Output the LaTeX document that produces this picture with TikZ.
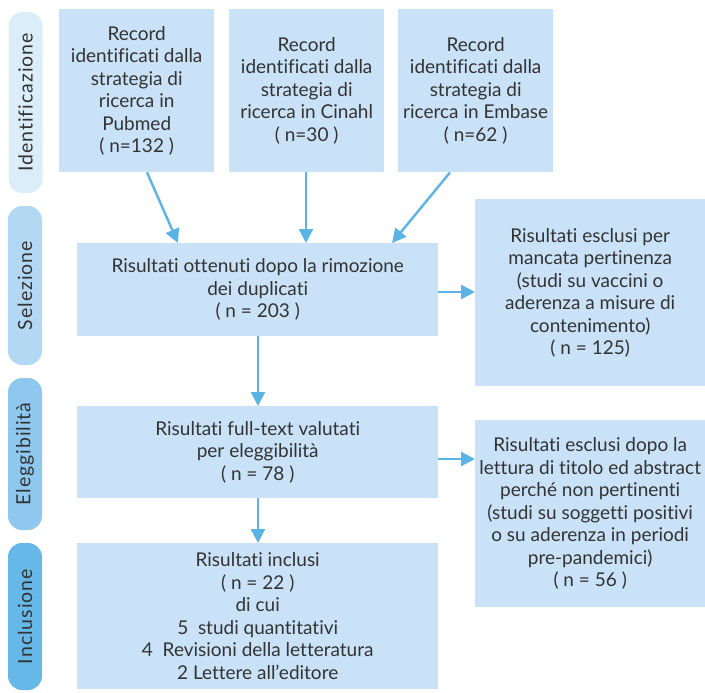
\documentclass[tikz,border=0pt]{standalone}
\usepackage{fontspec}
\setmainfont{Lato}[Ligatures={NoCommon}]
\usetikzlibrary{arrows.meta}
\definecolor{boxfill}{HTML}{C9E2F7}
\definecolor{arrowc}{HTML}{5AB4E6}
\definecolor{txt}{HTML}{333333}
\definecolor{sideA}{HTML}{DCEDFA}
\definecolor{sideB}{HTML}{B3D8F3}
\definecolor{sideC}{HTML}{8EC8EE}
\definecolor{sideD}{HTML}{66B8E8}
\tikzset{
  box/.style={fill=boxfill, anchor=north west, align=center, text=txt, inner sep=0pt,
    font=\fontsize{19}{22.5}\selectfont},
  side/.style={rounded corners=14pt, rotate=90, minimum height=34pt, inner sep=0pt,
    text=txt, font=\fontsize{19.5}{20}\selectfont\addfontfeatures{LetterSpace=5}},
  arr/.style={draw=arrowc, line width=2.4pt, -{Triangle[length=14pt,width=14pt]}}
}
\begin{document}
\begin{tikzpicture}[x=1pt,y=1pt]
\useasboundingbox (0,0) rectangle (705,-693);
% side labels
\node[side, fill=sideA, minimum width=181pt] (s1) at (25.5,-102.5) {Identificazione};
\node[side, fill=sideB, minimum width=159pt] (s2) at (25,-285.5) {Selezione};
\node[side, fill=sideC, minimum width=152pt] (s3) at (25,-454) {Eleggibilità};
\node[side, fill=sideD, minimum width=147pt] (s4) at (25,-616.5) {Inclusione};
% boxes
\node[box, minimum width=155pt, minimum height=163pt] (pub) at (59,-9)
  {Record\\identificati dalla\\strategia di\\ricerca in\\Pubmed\\( n=132 )};
\node[box, minimum width=155pt, minimum height=163pt] (cin) at (229,-9)
  {Record\\identificati dalla\\strategia di\\ricerca in Cinahl\\( n=30 )};
\node[box, minimum width=155pt, minimum height=163pt] (emb) at (398,-9)
  {Record\\identificati dalla\\strategia di\\ricerca in Embase\\( n=62 )};
\node[box, minimum width=361pt, minimum height=93pt] (dup) at (77,-243)
  {Risultati ottenuti dopo la rimozione\\dei duplicati\\( n = 203 )};
\node[box, minimum width=230pt, minimum height=187pt] (ex1) at (475,-199)
  {Risultati esclusi per\\mancata pertinenza\\(studi su vaccini o\\aderenza a misure di\\contenimento)\\( n = 125)};
\node[box, minimum width=361pt, minimum height=92pt] (ft) at (77,-406)
  {Risultati full-text valutati\\per eleggibilità\\( n = 78 )};
\node[box, minimum width=230pt, minimum height=187pt] (ex2) at (475,-420)
  {Risultati esclusi dopo la\\lettura di titolo ed abstract\\perché non pertinenti\\(studi su soggetti positivi\\o su aderenza in periodi\\pre-pandemici)\\( n = 56 )};
\node[box, minimum width=361pt, minimum height=146pt] (inc) at (77,-543)
  {Risultati inclusi\\( n = 22 )\\di cui\\5\ \ studi quantitativi\\4\ \ Revisioni della letteratura\\2 Lettere all’editore};
% arrows
\draw[arr] (pub.south -| 147,0) -- (dup.north -| 178,0);
\draw[arr] (cin.south -| 306,0) -- (dup.north -| 306,0);
\draw[arr] (emb.south -| 450,0) -- (dup.north -| 392,0);
\draw[arr] (dup.east |- 0,-292) -- (ex1.west |- 0,-292);
\draw[arr] (dup.south -| 258,0) -- (ft.north -| 258,0);
\draw[arr] (ft.east |- 0,-459) -- (ex2.west |- 0,-459);
\draw[arr] (ft.south -| 258,0) -- (inc.north -| 258,0);
\end{tikzpicture}
\end{document}
